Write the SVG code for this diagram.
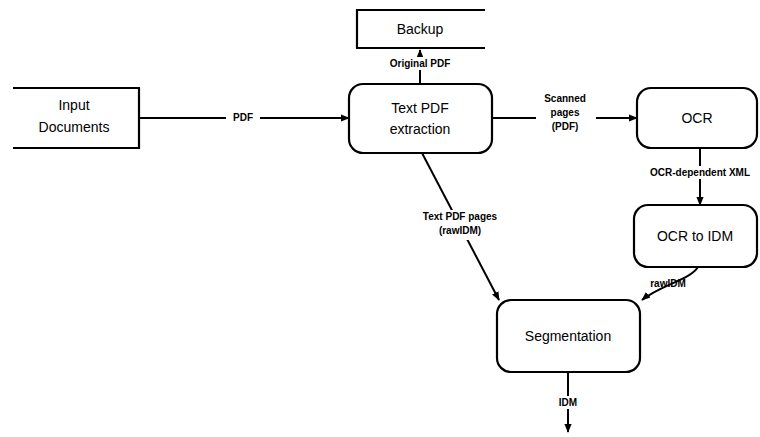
<svg xmlns="http://www.w3.org/2000/svg" width="760" height="437" viewBox="0 0 760 437">
<defs>
<style>
.box{fill:#fff;stroke:#000;stroke-width:2.2}
.line{fill:none;stroke:#000;stroke-width:2}
.nt{font-family:"Liberation Sans",Arial,sans-serif;font-size:14px;text-anchor:middle;fill:#000}
.lt{font-family:"Liberation Sans",Arial,sans-serif;font-size:10px;font-weight:bold;text-anchor:middle;fill:#000}
.bg{fill:#fff;stroke:none}
</style>
<marker id="arr" viewBox="0 0 10 10" refX="9" refY="5" markerWidth="9" markerHeight="9" orient="auto" markerUnits="userSpaceOnUse">
<path d="M0,1 L10,5 L0,9 z" fill="#000"/>
</marker>
</defs>
<g id="connectors">
<line class="line" x1="139" y1="118" x2="349" y2="118" marker-end="url(#arr)"/>
<line class="line" x1="420" y1="84" x2="420" y2="50" marker-end="url(#arr)"/>
<line class="line" x1="492" y1="118" x2="637" y2="118" marker-end="url(#arr)"/>
<line class="line" x1="700" y1="148" x2="700" y2="205" marker-end="url(#arr)"/>
<line class="line" x1="422" y1="153" x2="499" y2="300" marker-end="url(#arr)"/>
<path class="line" d="M698,267 C690,280 660,285 642,300" marker-end="url(#arr)"/>
<line class="line" x1="568" y1="372" x2="568" y2="432" marker-end="url(#arr)"/>
<rect class="bg" x="226" y="111" width="34" height="13"/>
<text class="lt" x="243" y="121">PDF</text>
<rect class="bg" x="375" y="57" width="90" height="13"/>
<text class="lt" x="420" y="67">Original PDF</text>
<rect class="bg" x="536" y="92" width="60" height="40"/>
<text class="lt" x="565" y="102">Scanned</text>
<text class="lt" x="565" y="116">pages</text>
<text class="lt" x="565" y="130">(PDF)</text>
<rect class="bg" x="638" y="166" width="122" height="13"/>
<text class="lt" x="700" y="176">OCR-dependent XML</text>
<rect class="bg" x="415" y="210" width="90" height="30"/>
<text class="lt" x="460" y="220">Text PDF pages</text>
<text class="lt" x="460" y="234">(rawIDM)</text>
<text class="lt" x="668" y="287">rawIDM</text>
<rect class="bg" x="552" y="396" width="32" height="13"/>
<text class="lt" x="568" y="406">IDM</text>
</g>
<g id="input-documents">
<path class="box" d="M13,88 L139,88 L139,148 L13,148"/>
<text class="nt" x="74" y="110">Input</text>
<text class="nt" x="74" y="132">Documents</text>
</g>
<g id="backup">
<path class="box" d="M485,10 L357,10 L357,48 L485,48"/>
<text class="nt" x="420" y="34">Backup</text>
</g>
<g id="text-pdf-extraction">
<rect class="box" x="349" y="84" width="143" height="69" rx="14"/>
<text class="nt" x="420" y="113">Text PDF</text>
<text class="nt" x="420" y="134">extraction</text>
</g>
<g id="ocr">
<rect class="box" x="637" y="88" width="120" height="60" rx="14"/>
<text class="nt" x="697" y="123">OCR</text>
</g>
<g id="ocr-to-idm">
<rect class="box" x="634" y="205" width="123" height="62" rx="14"/>
<text class="nt" x="695" y="241">OCR to IDM</text>
</g>
<g id="segmentation">
<rect class="box" x="497" y="300" width="143" height="72" rx="14"/>
<text class="nt" x="568" y="341">Segmentation</text>
</g>
</svg>
